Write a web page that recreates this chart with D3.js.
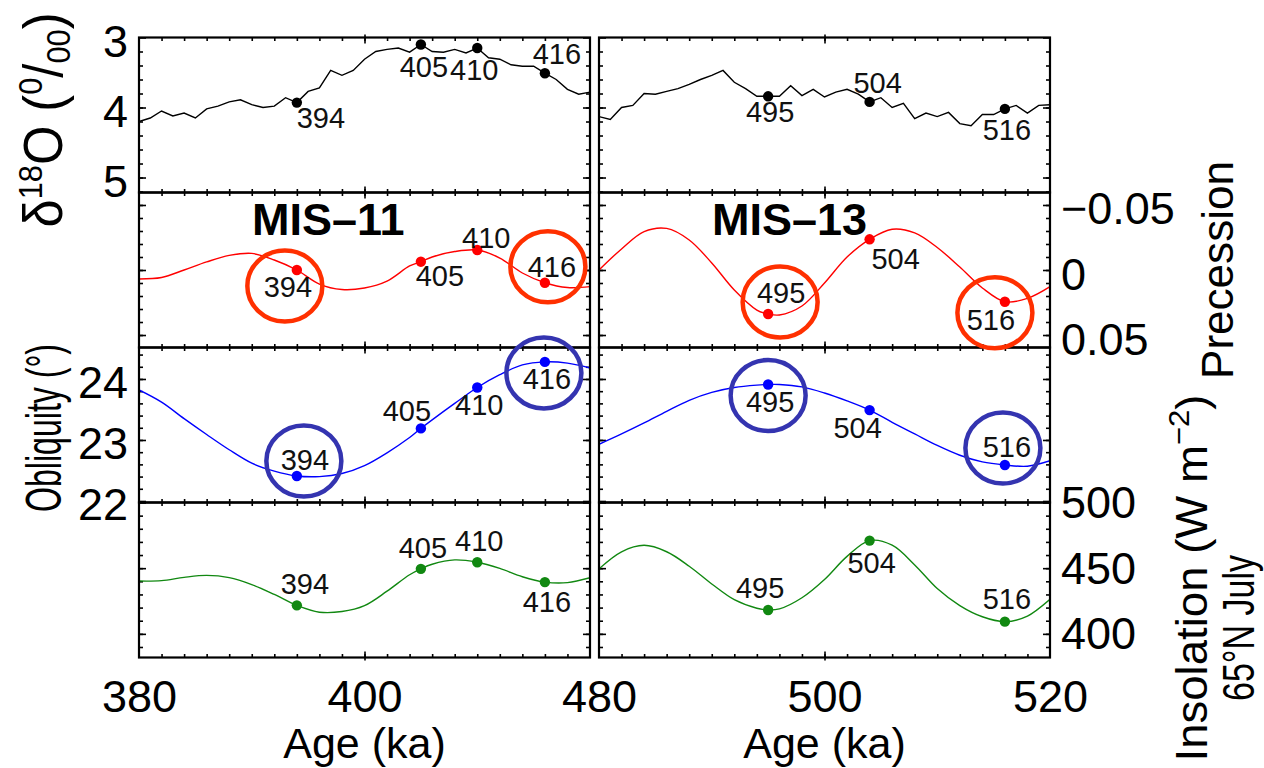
<!DOCTYPE html>
<html>
<head>
<meta charset="utf-8">
<script src="https://cdn.jsdelivr.net/npm/d3@7"></script>
<style>
  body { margin: 0; background: #fff; }
  svg { display: block; font-family: "Liberation Sans", Arial, sans-serif; }
</style>
</head>
<body>
<svg id="chart" width="1264" height="768"></svg>
<script>
// ---- data ----
const d18oAge11 = [380,381,382,383,384,385,386,387,388,389,390,391,392,393,394,395,396,397,398,399,400,401,402,403,404,405,406,407,408,409,410,411,412,413,414,415,416,417,418,419,420];
const d18oVal11 = [4.20,4.15,4.05,4.12,4.08,4.15,4.02,3.98,3.92,3.89,3.96,4.00,3.98,3.86,3.93,3.77,3.72,3.47,3.54,3.47,3.31,3.20,3.17,3.15,3.21,3.10,3.20,3.21,3.17,3.22,3.15,3.29,3.31,3.39,3.41,3.41,3.51,3.60,3.74,3.81,3.78];
const d18oAge13 = [480,481,482,483,484,485,486,487,488,489,490,491,492,493,494,495,496,497,498,499,500,501,502,503,504,505,506,507,508,509,510,511,512,513,514,515,516,517,518,519,520];
const d18oVal13 = [4.13,4.17,4.00,3.97,3.80,3.81,3.77,3.73,3.67,3.60,3.54,3.47,3.64,3.73,3.84,3.84,3.84,3.69,3.83,3.74,3.85,3.78,3.74,3.81,3.92,3.86,4.00,3.94,4.16,4.08,4.13,4.07,4.23,4.26,4.10,4.10,4.02,3.97,4.08,3.97,3.96];

const smoothAge11 = [380,382,384,386,388,390,392,394,396,398,400,402,404,405,406,408,410,412,414,416,418,420];
const smoothAge13 = [480,482,484,486,488,490,492,494,495,496,498,500,502,504,506,508,510,512,514,516,518,520];

const precVal11 = [0.0069,0.0058,0.0,-0.0062,-0.0112,-0.0128,-0.0077,0.0,0.0108,0.0150,0.0138,0.0085,-0.0031,-0.0064,-0.0100,-0.0142,-0.0154,-0.0092,0.0023,0.0098,0.0135,0.0128];
const precVal13 = [0.0,-0.0162,-0.0295,-0.0320,-0.0231,-0.0054,0.0154,0.0308,0.0338,0.0346,0.0277,0.0100,-0.0100,-0.0236,-0.0313,-0.0285,-0.0173,-0.0023,0.0138,0.0244,0.0218,0.0128];

const oblVal11 = [23.82,23.62,23.35,23.09,22.84,22.62,22.49,22.41,22.40,22.45,22.58,22.79,23.04,23.19,23.33,23.60,23.86,24.07,24.23,24.28,24.26,24.18];
const oblVal13 = [22.93,23.10,23.28,23.47,23.65,23.78,23.86,23.90,23.91,23.91,23.87,23.77,23.64,23.49,23.29,23.10,22.91,22.75,22.64,22.59,22.57,22.66];

const insVal11 = [440.2,440.5,443.0,444.5,442.8,437.5,430.0,421.7,416.5,417.0,421.5,432.5,445.0,449.5,453.0,456.3,454.5,449.8,443.5,439.4,439.0,442.7];
const insVal13 = [449.5,462.5,467.4,462.5,451.5,438.0,426.0,419.5,418.2,419.0,427.5,441.4,459.0,471.0,467.5,452.5,434.5,421.5,413.0,409.3,413.5,426.3];

// marked ages and their values
const markAge11 = [394, 405, 410, 416];
const markAge13 = [495, 504, 516];
const d18oMark11 = [3.93, 3.10, 3.15, 3.51];
const d18oMark13 = [3.84, 3.92, 4.02];
const precMark11 = [0.0, -0.0064, -0.0154, 0.0098];
const precMark13 = [0.0338, -0.0236, 0.0244];
const oblMark11 = [22.41, 23.19, 23.86, 24.28];
const oblMark13 = [23.91, 23.49, 22.59];
const insMark11 = [421.7, 449.5, 454.5, 439.4];
const insMark13 = [418.2, 471.0, 409.3];

// ticks
const xTicks11 = [380, 400];
const xTicks13 = [480, 500, 520];
const d18oTicks = [3, 4, 5];
const precTicks = [-0.05, 0, 0.05];
const oblTicks = [22, 23, 24];
const insTicks = [400, 450, 500];

// ---- layout ----
const svg = d3.select("#chart");
const cols = [[139, 590], [599, 1050]];
const rowY = [37.5, 192.5, 347.5, 502.5, 657.5];
const font = '"Liberation Sans", Arial, sans-serif';

const x = [
    d3.scaleLinear().domain([380, 420]).range(cols[0]),
    d3.scaleLinear().domain([480, 520]).range(cols[1])
];

const rows = [
    { y: d3.scaleLinear().domain([3, 5.214]).range([rowY[0], rowY[1]]),
      minor: d3.range(3.2, 5.21, 0.2), major: d18oTicks, labels: d18oTicks, side: "left",
      ages: [d18oAge11, d18oAge13], vals: [d18oVal11, d18oVal13], marks: [d18oMark11, d18oMark13],
      color: "#000", curve: d3.curveLinear, labDy: 19 },
    { y: d3.scaleLinear().domain([-0.0596, 0.0596]).range([rowY[1], rowY[2]]),
      minor: d3.range(-0.05, 0.051, 0.01), major: precTicks, labels: precTicks, side: "right",
      ages: [smoothAge11, smoothAge13], vals: [precVal11, precVal13], marks: [precMark11, precMark13],
      color: "#ff0000", curve: d3.curveCatmullRom, labDy: 19 },
    { y: d3.scaleLinear().domain([21.975, 24.516]).range([rowY[3], rowY[2]]),
      minor: d3.range(22.2, 24.5, 0.2), major: oblTicks, labels: oblTicks, side: "left",
      ages: [smoothAge11, smoothAge13], vals: [oblVal11, oblVal13], marks: [oblMark11, oblMark13],
      color: "#0000ff", curve: d3.curveCatmullRom, labDy: 19 },
    { y: d3.scaleLinear().domain([382, 500]).range([rowY[4], rowY[3]]),
      minor: d3.range(390, 500, 10), major: insTicks, labels: insTicks, side: "right",
      ages: [smoothAge11, smoothAge13], vals: [insVal11, insVal13], marks: [insMark11, insMark13],
      color: "#118811", curve: d3.curveCatmullRom, labDy: 15 }
];

// label offsets from the dot (text centre x, baseline y), per row, per panel
const labelOff = [
    [[[24, 25], [3, 32], [-3, 32], [12, -9]], [[2, 26], [8, -9], [2, 31]]],
    [[[-9, 27], [19, 24], [9, -2], [7, -6]], [[13, -11], [26, 30], [-14, 28]]],
    [[[8, -6], [-14, -7], [2, 27], [2, 27]], [[2, 28], [-12, 28], [2, -8]]],
    [[[8, -11], [2, -11], [2, -11], [2, 30]], [[-8, -12], [2, 32], [2, -13]]]
];

// highlight rings: row, panel, index of marked age, offset from dot
const rings = [
    { row: 1, panel: 0, i: 0, dx: -12, dy: 16, color: "#ff3000" },
    { row: 1, panel: 0, i: 3, dx: 3, dy: -16, color: "#ff3000" },
    { row: 1, panel: 1, i: 0, dx: 12, dy: -12, color: "#ff3000" },
    { row: 1, panel: 1, i: 2, dx: -10, dy: 11, color: "#ff3000" },
    { row: 2, panel: 0, i: 0, dx: 7, dy: -15, color: "#3434b0" },
    { row: 2, panel: 0, i: 3, dx: -1, dy: 11, color: "#3434b0" },
    { row: 2, panel: 1, i: 0, dx: 0, dy: 11, color: "#3434b0" },
    { row: 2, panel: 1, i: 2, dx: -2, dy: -17, color: "#3434b0" }
];

const markAges = [markAge11, markAge13];
const xMinor = [d3.range(382, 420, 2), d3.range(482, 520, 2)];
const xMajor = [[400], [500]];

const defs = svg.append("defs");

rows.forEach((row, r) => {
    const y0 = rowY[r], y1 = rowY[r + 1];
    [0, 1].forEach(p => {
        const [xa, xb] = cols[p];
        const cell = svg.append("g");
        const clipId = `clip-${r}-${p}`;
        defs.append("clipPath").attr("id", clipId)
            .append("rect").attr("x", xa).attr("y", y0).attr("width", xb - xa).attr("height", y1 - y0);

        // inward ticks on all four sides
        const tickAxis = (axis, tr, vals, len) => {
            cell.append("g").attr("transform", tr)
                .call(axis.tickValues(vals).tickSize(-len).tickFormat(""))
                .call(g => g.select(".domain").remove())
                .selectAll("line").attr("stroke", "#000").attr("stroke-width", 1.6);
        };
        tickAxis(d3.axisBottom(x[p]), `translate(0,${y1})`, xMinor[p], 3.5);
        tickAxis(d3.axisTop(x[p]), `translate(0,${y0})`, xMinor[p], 3.5);
        tickAxis(d3.axisBottom(x[p]), `translate(0,${y1 + 3})`, xMajor[p], 9);
        tickAxis(d3.axisTop(x[p]), `translate(0,${y0 - 3})`, xMajor[p], 9);
        tickAxis(d3.axisLeft(row.y), `translate(${xa},0)`, row.minor, 4);
        tickAxis(d3.axisRight(row.y), `translate(${xb},0)`, row.minor, 4);
        tickAxis(d3.axisLeft(row.y), `translate(${xa},0)`, row.major, 7);
        tickAxis(d3.axisRight(row.y), `translate(${xb},0)`, row.major, 7);

        // data line
        const line = d3.line()
            .x((d, i) => x[p](row.ages[p][i]))
            .y(d => row.y(d))
            .curve(row.curve);
        cell.append("path")
            .datum(row.vals[p])
            .attr("clip-path", `url(#${clipId})`)
            .attr("fill", "none")
            .attr("stroke", row.color)
            .attr("stroke-width", 1.4)
            .attr("d", line);

        // marked points
        const pts = row.marks[p].map((v, i) => ({ age: markAges[p][i], v, off: labelOff[r][p][i] }));
        cell.selectAll("circle.dot").data(pts).enter().append("circle")
            .attr("class", "dot")
            .attr("cx", d => x[p](d.age))
            .attr("cy", d => row.y(d.v))
            .attr("r", 5.2)
            .attr("fill", row.color);
        cell.selectAll("text.lab").data(pts).enter().append("text")
            .attr("class", "lab")
            .attr("x", d => x[p](d.age) + d.off[0])
            .attr("y", d => row.y(d.v) + d.off[1])
            .attr("text-anchor", "middle")
            .attr("font-size", 29)
            .attr("fill", "#111")
            .text(d => d.age);

        // frame
        cell.append("rect")
            .attr("x", xa).attr("y", y0)
            .attr("width", xb - xa).attr("height", y1 - y0)
            .attr("fill", "none").attr("stroke", "#000").attr("stroke-width", 2.2);
    });

    // tick labels on the outer side
    const labAxis = row.side === "left"
        ? d3.axisLeft(row.y).tickPadding(11)
        : d3.axisRight(row.y).tickPadding(11);
    svg.append("g")
        .attr("transform", `translate(${row.side === "left" ? cols[0][0] : cols[1][1]},0)`)
        .call(labAxis.tickValues(row.labels).tickSize(0)
            .tickFormat(d => d3.format("")(d).replace("-", "\u2212")))
        .call(g => g.select(".domain").remove())
        .call(g => g.selectAll("text")
            .attr("font-size", 45).attr("font-family", font).attr("fill", "#000")
            .attr("dy", row.labDy));
});

// rings round the highlighted labels
rings.forEach(c => {
    const row = rows[c.row];
    svg.append("ellipse")
        .attr("cx", x[c.panel](markAges[c.panel][c.i]) + c.dx)
        .attr("cy", row.y(row.marks[c.panel][c.i]) + c.dy)
        .attr("rx", 37.5).attr("ry", 35.5)
        .attr("fill", "none")
        .attr("stroke", c.color)
        .attr("stroke-width", 4.5);
});

// x axis labels
[xTicks11, xTicks13].forEach((ticks, p) => {
    svg.append("g")
        .attr("transform", `translate(0,${rowY[4]})`)
        .call(d3.axisBottom(x[p]).tickValues(ticks).tickSize(0).tickPadding(23))
        .call(g => g.select(".domain").remove())
        .call(g => g.selectAll("text").attr("font-size", 45).attr("font-family", font).attr("fill", "#000"));
    svg.append("text")
        .attr("x", (cols[p][0] + cols[p][1]) / 2)
        .attr("y", 758)
        .attr("text-anchor", "middle")
        .attr("font-size", 43)
        .text("Age (ka)");
});

// MIS titles
svg.append("text").attr("x", 252).attr("y", 235).attr("font-size", 45).attr("font-weight", "bold").text("MIS\u201311");
svg.append("text").attr("x", 712).attr("y", 235).attr("font-size", 45).attr("font-weight", "bold").text("MIS\u201313");

// rotated axis titles
const vtitle = (xPos, yPos, size, len) => svg.append("text")
    .attr("transform", `translate(${xPos},${yPos}) rotate(-90)`)
    .attr("text-anchor", "middle")
    .attr("font-size", size)
    .attr("textLength", len)
    .attr("lengthAdjust", "spacingAndGlyphs");

const t1 = vtitle(62, 120, 56, 215);
t1.append("tspan").text("\u03b4");
t1.append("tspan").attr("dy", -20).attr("font-size", 34).text("18");
t1.append("tspan").attr("dy", 20).text("O (");
t1.append("tspan").attr("dy", -20).attr("font-size", 34).text("0");
t1.append("tspan").attr("dy", 20).text("/");
t1.append("tspan").attr("dy", 8).attr("font-size", 34).text("00");
t1.append("tspan").attr("dy", -8).text(")");

vtitle(61, 428, 50, 168).text("Obliquity (\u00b0)");
vtitle(1233, 270, 44, 218).text("Precession");

const t4 = vtitle(1207, 578, 44, 367);
t4.append("tspan").text("Insolation (W m");
t4.append("tspan").attr("dy", -18).attr("font-size", 30).text("\u22122");
t4.append("tspan").attr("dy", 18).text(")");

vtitle(1254, 628, 44, 146).text("65\u00b0N July");
</script>
</body>
</html>
